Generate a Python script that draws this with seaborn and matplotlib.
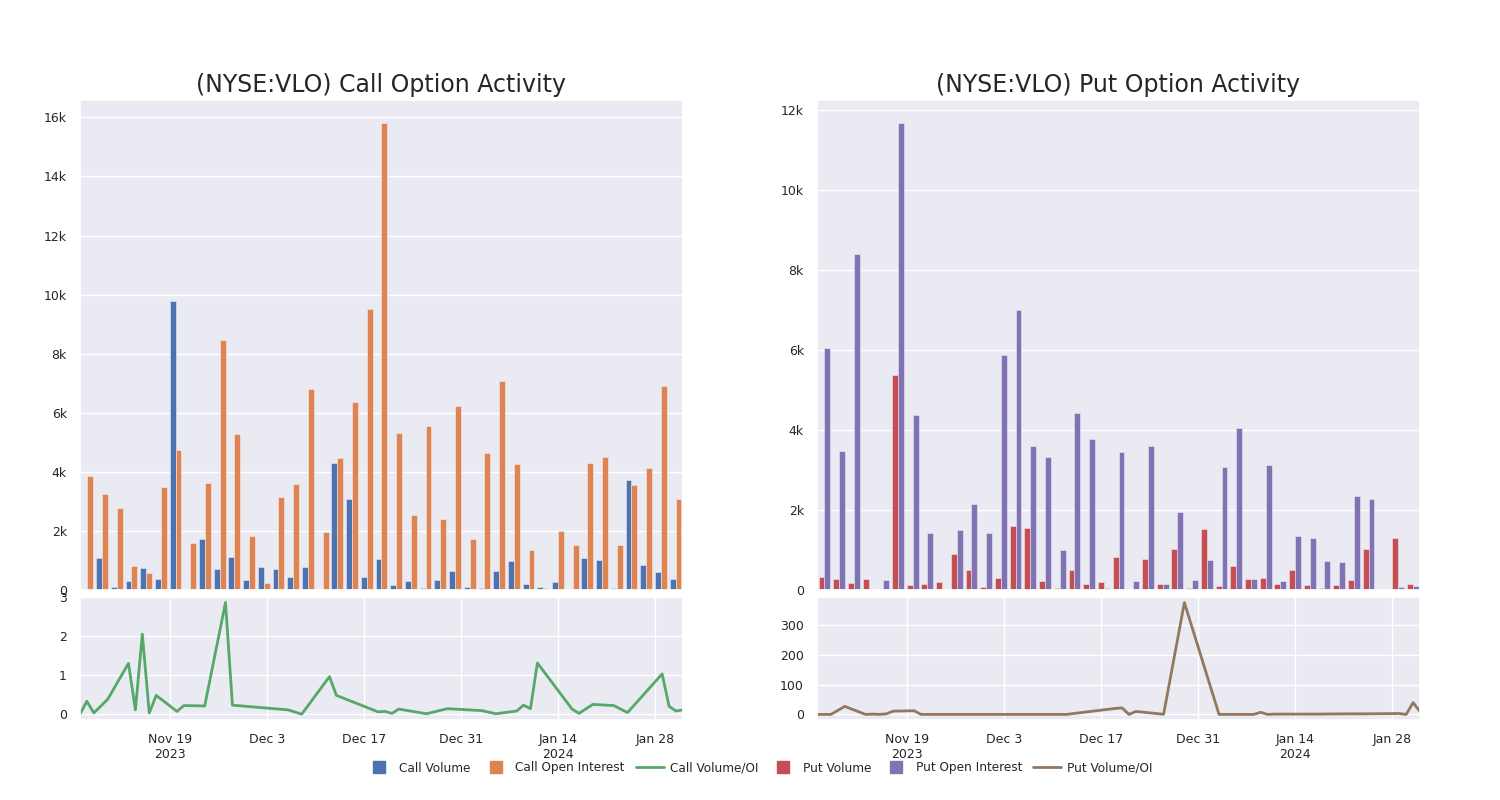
import numpy as np
import pandas as pd
import seaborn as sns
import matplotlib.pyplot as plt
from matplotlib.lines import Line2D
from matplotlib.ticker import FuncFormatter

# trading days shown in both panels
dates = ['2023-11-06', '2023-11-07', '2023-11-08', '2023-11-10', '2023-11-13', '2023-11-14',
         '2023-11-15', '2023-11-16', '2023-11-17', '2023-11-20', '2023-11-21', '2023-11-24',
         '2023-11-27', '2023-11-28', '2023-12-05', '2023-12-06', '2023-12-08', '2023-12-12',
         '2023-12-13', '2023-12-19', '2023-12-20', '2023-12-21', '2023-12-22', '2023-12-26',
         '2023-12-29', '2024-01-03', '2024-01-04', '2024-01-05', '2024-01-08', '2024-01-09',
         '2024-01-10', '2024-01-11', '2024-01-16', '2024-01-17', '2024-01-19', '2024-01-22',
         '2024-01-24', '2024-01-29', '2024-01-30', '2024-01-31', '2024-02-01']

call_volume = [20, 1070, 100, 300, 750, 360, 9790, 30, 1720, 700, 1120, 350, 770, 720, 450, 790,
               np.nan, 4310, 3090, 440, 1040, 170, 320, 70, 330, 630, 100, 70, 630, 990, 190, 90,
               270, 30, 1080, 1000, 80, 3740, 840, 620, 360]
call_oi = [3860, 3240, 2780, 810, 560, 3490, 4740, 1590, 3610, 8450, 5280, 1830, 250, 3160, 3600,
           6790, 1960, 4460, 6370, 9500, 15800, 5320, 2550, 5560, 2420, 6230, 1720, 4630, 7070,
           4270, 1360, 70, 1990, 1540, 4310, 4500, 1540, 3570, 4140, 6910, 3070]
call_ratio = [0.0, 0.33, 0.03, 0.38, 1.30, 0.11, 2.05, 0.03, 0.48, 0.07, 0.22, 0.21, 2.86, 0.23,
              0.125, 0.11, 0.0, 0.96, 0.48, 0.06, 0.07, 0.02, 0.13, 0.01, 0.14, 0.09, 0.05, 0.01,
              0.08, 0.23, 0.14, 1.31, 0.13, 0.02, 0.25, 0.22, 0.04, 1.03, 0.20, 0.08, 0.11]

put_volume = [330, 275, 175, 280, 10, 5380, 130, 160, 190, 910, 510, 80, 290, 1590, 1550, 225, 40,
              510, 150, 200, 830, np.nan, 780, 160, 1030, 60, 1530, 100, 600, 280, 310, 160, 490,
              125, 60, 125, 260, 1030, 25, 1300, 150]
put_oi = [6050, 3480, 8390, np.nan, 250, 11660, 4370, 1420, 10, 1500, 2150, 1430, 5880, 7000, 3600,
          3330, 1010, 4430, 3770, 40, 3460, 220, 3610, 140, 1940, 260, 740, 3080, 4060, 275, 3120,
          220, 1360, 1310, 730, 690, 2350, 2270, 25, 75, 110]
put_ratio = [0, 0, 0, 27, 0, 1, 0, 2, 11, 12.5, 0, 0, 0, 0, 0, 0, 0, 0, 3, 20, 22, 0, 10, 0.5, 376,
             0, 0, 0, 0, 7, 0, 1, 1, 1, 1.5, 2, 2, 3, 0, 40, 9]

tick_dates = ['2023-11-19', '2023-12-03', '2023-12-17', '2023-12-31', '2024-01-14', '2024-01-28']
tick_labels = ['Nov 19\n2023', 'Dec 3', 'Dec 17', 'Dec 31', 'Jan 14\n2024', 'Jan 28']

pal = sns.color_palette("deep")
c_vol, c_oi, c_cr, c_pv, c_po, c_pr = pal[0], pal[1], pal[2], pal[3], pal[4], pal[5]

sns.set_theme(style="darkgrid")

fig = plt.figure(figsize=(15, 8), dpi=100)
ax_call = fig.add_axes([0.0533, 0.2625, 0.402, 0.6125])
ax_call_r = fig.add_axes([0.0533, 0.1, 0.402, 0.15375])
ax_put = fig.add_axes([0.5447, 0.2625, 0.402, 0.6125])
ax_put_r = fig.add_axes([0.5447, 0.1, 0.402, 0.15375])

kfmt = FuncFormatter(lambda v, p: '0' if v == 0 else f'{v / 1000:g}k')
day = pd.to_datetime(dates)


def bars(ax, vol, oi, names, colors, title):
    n = len(dates)
    df = pd.DataFrame({'day': dates * 2, 'value': vol + oi,
                       'kind': [names[0]] * n + [names[1]] * n})
    sns.barplot(data=df, x='day', y='value', hue='kind', order=dates, hue_order=names,
                palette=colors, saturation=1, errorbar=None, legend=False, ax=ax,
                linewidth=0.5, edgecolor=(1, 1, 1, 0.6))
    ax.set_xticks(range(0, n, 5))
    ax.set_xticklabels([])
    ax.tick_params(axis='x', length=0)
    ax.yaxis.set_major_formatter(kfmt)
    ax.tick_params(axis='y', labelsize=9)
    ax.set_xlabel('')
    ax.set_ylabel('')
    ax.set_title(title, fontsize=17)


def ratio(ax, vals, color):
    sns.lineplot(x=day, y=vals, color=color, linewidth=2, ax=ax)
    ax.set_xlim(day[0], day[-1])
    ax.set_xticks(pd.to_datetime(tick_dates))
    ax.set_xticklabels(tick_labels)
    ax.tick_params(labelsize=9)
    ax.set_xlabel('')
    ax.set_ylabel('')


bars(ax_call, call_volume, call_oi, ['Call Volume', 'Call Open Interest'], [c_vol, c_oi],
     '(NYSE:VLO) Call Option Activity')
bars(ax_put, put_volume, put_oi, ['Put Volume', 'Put Open Interest'], [c_pv, c_po],
     '(NYSE:VLO) Put Option Activity')
ratio(ax_call_r, call_ratio, c_cr)
ax_call_r.set_ylim(-0.15, 3.0)
ax_call_r.set_yticks([0, 1, 2, 3])
ratio(ax_put_r, put_ratio, c_pr)
ax_put_r.set_yticks([0, 100, 200, 300])

handles = [
    Line2D([], [], marker='s', linestyle='', color=c_vol, markersize=9),
    Line2D([], [], marker='s', linestyle='', color=c_oi, markersize=9),
    Line2D([], [], color=c_cr, linewidth=2),
    Line2D([], [], marker='s', linestyle='', color=c_pv, markersize=9),
    Line2D([], [], marker='s', linestyle='', color=c_po, markersize=9),
    Line2D([], [], color=c_pr, linewidth=2),
]
labels = ['Call Volume', 'Call Open Interest', 'Call Volume/OI',
          'Put Volume', 'Put Open Interest', 'Put Volume/OI']
fig.legend(handles, labels, loc='center', bbox_to_anchor=(0.506, 0.04), ncol=6,
           frameon=False, fontsize=8.7, handlelength=2.3, handletextpad=0.5,
           columnspacing=0.9)

fig.savefig('out.png', dpi=100)
